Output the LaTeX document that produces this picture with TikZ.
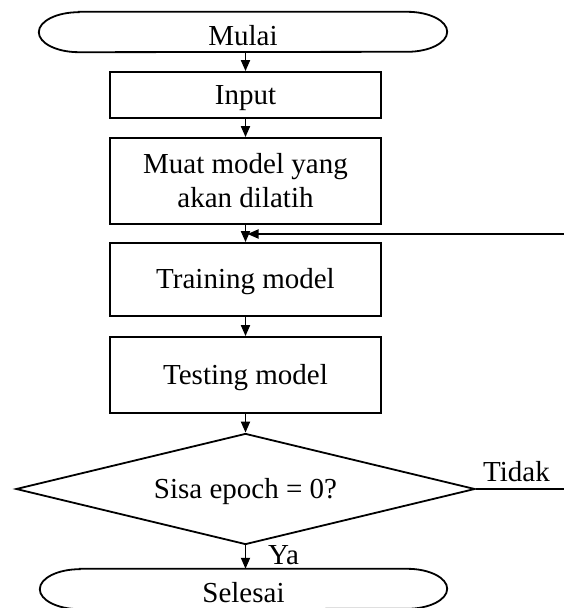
\documentclass[tikz,border=0pt]{standalone}
\usepackage{fontspec}
\setmainfont{Liberation Serif}
\usetikzlibrary{arrows.meta,shapes.geometric}
\begin{document}
\begin{tikzpicture}[x=1pt,y=1pt,
  every node/.style={font=\fontsize{29}{34}\selectfont},
  box/.style={draw, line width=1.8pt, minimum width=271pt, inner sep=0pt, text height=19pt, text depth=0pt},
  decision/.style={diamond, shape aspect=4.135, draw, line width=1.8pt, minimum width=459pt, minimum height=111pt, inner sep=0pt, text height=19pt, text depth=0pt},
  flow/.style={line width=1.8pt, -{Triangle[length=11pt,width=9pt]}},
  term/.style={draw=none, minimum height=40pt, inner sep=0pt},
  outline/.style={line width=1.8pt},
  lbl/.style={inner sep=0pt}]
\useasboundingbox (0,0) rectangle (563,608);

% terminals (shape holders)
\node[term, minimum width=408pt] (mulaishape) at (243,576) {};
\node[term, minimum width=407pt] (selesaishape) at (243.5,19) {};
\draw[outline] ([xshift=40pt]mulaishape.north west) -- ([xshift=-40pt]mulaishape.north east)
  arc[start angle=90,end angle=-90,x radius=40pt,y radius=20pt]
  -- ([xshift=40pt]mulaishape.south west)
  arc[start angle=270,end angle=90,x radius=40pt,y radius=20pt] -- cycle;
\draw[outline] ([xshift=40pt]selesaishape.north west) -- ([xshift=-40pt]selesaishape.north east)
  arc[start angle=90,end angle=-90,x radius=40pt,y radius=20pt]
  -- ([xshift=40pt]selesaishape.south west)
  arc[start angle=270,end angle=90,x radius=40pt,y radius=20pt] -- cycle;
\node[lbl, anchor=base] (mulai) at (243,562) {Mulai};
\node[lbl, anchor=base] (selesai) at (243.5,5.5) {Selesai};

% process boxes
\node[box, minimum height=46pt] (input) at (245.5,513) {Input};
\node[draw, line width=1.8pt, minimum width=271pt, minimum height=86pt, inner sep=0pt, align=center] (muat) at (245.5,427) {Muat model yang\\akan dilatih};
\node[box, minimum height=73pt] (training) at (245.5,328.5) {Training model};
\node[box, minimum height=76pt] (testing) at (245.5,233) {Testing model};
\node[decision] (dec) at (245.5,119) {Sisa epoch = 0?};

% labels
\node[lbl, anchor=base west] (ya) at (268,43) {Ya};
\node[lbl, anchor=base west] (tidak) at (483,126) {Tidak};

% connectors
\draw[flow] (input.north |- mulaishape.south) -- (input.north);
\draw[flow] (input.south) -- (muat.north);
\draw[flow] (muat.south) -- (training.north);
\draw[flow] (training.south) -- (testing.north);
\draw[flow] (testing.south) -- (dec.north);
\draw[flow] (dec.south) -- (dec.south |- selesaishape.north);

\coordinate (fbx) at (567,0);
\coordinate (fbin) at (247.5,374);
\draw[flow] (dec.east) -- (dec.east -| fbx) -- (fbx |- fbin) -- (fbin);
\end{tikzpicture}
\end{document}
